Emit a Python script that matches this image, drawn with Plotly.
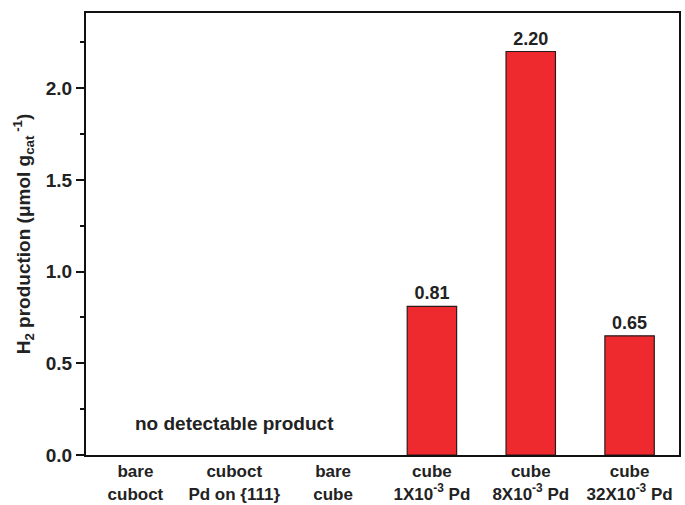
import plotly.graph_objects as go

categories = [
    "bare<br>cuboct",
    "cuboct<br>Pd on {111}",
    "bare<br>cube",
    "cube<br>1X10<sup>-3</sup> Pd",
    "cube<br>8X10<sup>-3</sup> Pd",
    "cube<br>32X10<sup>-3</sup> Pd",
]
h2_production = [None, None, None, 0.81, 2.20, 0.65]
bar_labels = ["", "", "", "0.81", "2.20", "0.65"]

font_family = "Liberation Sans, Arial, sans-serif"
ink = "#222222"

fig = go.Figure()
fig.add_trace(go.Bar(
    x=list(range(len(categories))),
    y=h2_production,
    width=0.5,
    marker=dict(color="#EE2A2E", line=dict(color="#2a1a1a", width=1.2)),
    text=bar_labels,
    textposition="outside",
    textfont=dict(family=font_family, size=18, color=ink, weight="bold"),
    cliponaxis=False,
    hoverinfo="skip",
))

fig.add_annotation(
    x=1, y=0.174, text="no detectable product", showarrow=False,
    font=dict(family=font_family, size=19, color=ink, weight="bold"),
)

fig.update_layout(
    width=685, height=505,
    margin=dict(l=86, r=6, t=13, b=50),
    plot_bgcolor="white", paper_bgcolor="white",
    showlegend=False,
    font=dict(family=font_family, color=ink, weight="bold"),
)
fig.update_xaxes(
    range=[-0.5, 5.5],
    tickmode="array",
    tickvals=list(range(len(categories))),
    ticktext=categories,
    ticks="",
    ticklabelstandoff=0,
    tickfont=dict(family=font_family, size=17, color=ink, weight="bold"),
    showline=True, linecolor="#111111", linewidth=2, mirror=True,
    showgrid=False, zeroline=False,
    automargin=False,
)
fig.update_yaxes(
    range=[0, 2.41],
    tickvals=[0, 0.5, 1.0, 1.5, 2.0],
    ticktext=["0.0", "0.5", "1.0", "1.5", "2.0"],
    ticks="outside", ticklen=8, tickwidth=2, tickcolor="#111111",
    minor=dict(tickvals=[0.25, 0.75, 1.25, 1.75, 2.25], ticks="outside",
               ticklen=4, tickwidth=2, tickcolor="#111111"),
    tickfont=dict(family=font_family, size=19, color=ink, weight="bold"),
    showline=True, linecolor="#111111", linewidth=2, mirror=True,
    showgrid=False, zeroline=False,
    automargin=False,
    title=dict(
        text="H<sub>2</sub> production (μmol g<sub>cat</sub><sup> -1</sup>)",
        font=dict(family=font_family, size=19, color=ink, weight="bold"),
        standoff=10,
    ),
)

fig.write_html("out.html")
